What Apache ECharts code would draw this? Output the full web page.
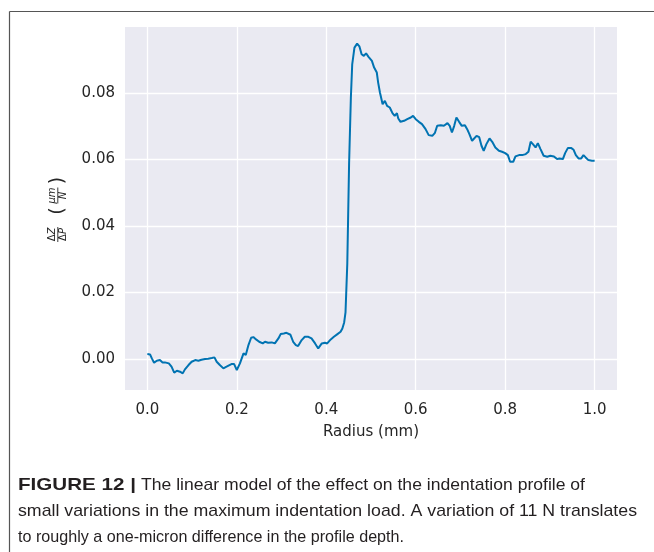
<!DOCTYPE html>
<html>
<head>
<meta charset="utf-8">
<title>Figure 12</title>
<script src="https://cdn.jsdelivr.net/npm/echarts@6/dist/echarts.min.js"></script>
<style>
  html, body { margin: 0; padding: 0; background: #fff; }
  #chart { width: 654px; height: 552px; }
</style>
</head>
<body>
<div id="chart"></div>
<script>
// radius (mm) and dZ/dP (um/N)
const radius = [
  0.000, 0.006, 0.010, 0.015, 0.021, 0.028, 0.034, 0.039, 0.048, 0.054,
  0.060, 0.066, 0.073, 0.079, 0.084, 0.092, 0.099, 0.107, 0.114, 0.121,
  0.129, 0.136, 0.144, 0.150, 0.155, 0.162, 0.170, 0.177, 0.188, 0.194,
  0.200, 0.207, 0.215, 0.220, 0.226, 0.232, 0.237, 0.243, 0.250, 0.258,
  0.263, 0.270, 0.278, 0.285, 0.293, 0.298, 0.305, 0.311, 0.315, 0.320,
  0.326, 0.332, 0.337, 0.345, 0.352, 0.360, 0.367, 0.375, 0.382, 0.390,
  0.397, 0.402, 0.410, 0.417, 0.425, 0.432, 0.436, 0.440, 0.443, 0.447,
  0.451, 0.455, 0.458, 0.463, 0.469, 0.474, 0.479, 0.484, 0.489, 0.494,
  0.502, 0.507, 0.513, 0.516, 0.520, 0.526, 0.531, 0.536, 0.542, 0.548,
  0.553, 0.558, 0.561, 0.566, 0.574, 0.581, 0.589, 0.594, 0.600, 0.607,
  0.614, 0.622, 0.629, 0.637, 0.643, 0.648, 0.656, 0.663, 0.671, 0.676,
  0.681, 0.686, 0.691, 0.697, 0.703, 0.710, 0.715, 0.720, 0.726, 0.736,
  0.742, 0.747, 0.752, 0.758, 0.765, 0.771, 0.778, 0.786, 0.793, 0.800,
  0.806, 0.811, 0.818, 0.823, 0.831, 0.838, 0.846, 0.852, 0.857, 0.862,
  0.868, 0.873, 0.879, 0.886, 0.894, 0.901, 0.909, 0.916, 0.921, 0.929,
  0.934, 0.940, 0.948, 0.953, 0.958, 0.964, 0.970, 0.975, 0.980, 0.986,
  0.994, 1.000
]
const dzdp = [
  0.0015, 0.0014, 0.0002, -0.0011, -0.0005, -0.0003, -0.0010, -0.0010, -0.0013, -0.0023,
  -0.0041, -0.0035, -0.0038, -0.0043, -0.0031, -0.0018, -0.0008, -0.0003, -0.0005, -0.0002,
  0.0000, 0.0001, 0.0003, 0.0005, -0.0008, -0.0018, -0.0028, -0.0023, -0.0015, -0.0015,
  -0.0033, -0.0013, 0.0017, 0.0012, 0.0042, 0.0064, 0.0066, 0.0059, 0.0052, 0.0047,
  0.0052, 0.0049, 0.0050, 0.0047, 0.0062, 0.0075, 0.0077, 0.0079, 0.0085, 0.0073,
  0.0052, 0.0042, 0.0039, 0.0057, 0.0067, 0.0067, 0.0062, 0.0047, 0.0032, 0.0047,
  0.0049, 0.0047, 0.0059, 0.0067, 0.0075, 0.0082, 0.0092, 0.0110, 0.0140, 0.0287,
  0.0586, 0.0786, 0.0886, 0.0936, 0.0948, 0.0940, 0.0916, 0.0911, 0.0919, 0.0909,
  0.0896, 0.0876, 0.0861, 0.0831, 0.0801, 0.0766, 0.0776, 0.0761, 0.0756, 0.0739,
  0.0731, 0.0739, 0.0723, 0.0713, 0.0716, 0.0721, 0.0726, 0.0731, 0.0721, 0.0713,
  0.0706, 0.0691, 0.0673, 0.0671, 0.0680, 0.0701, 0.0703, 0.0701, 0.0709, 0.0701,
  0.0681, 0.0701, 0.0726, 0.0713, 0.0701, 0.0703, 0.0691, 0.0676, 0.0656, 0.0671,
  0.0667, 0.0641, 0.0626, 0.0646, 0.0663, 0.0653, 0.0636, 0.0626, 0.0623, 0.0619,
  0.0613, 0.0593, 0.0593, 0.0609, 0.0613, 0.0613, 0.0616, 0.0623, 0.0653, 0.0646,
  0.0636, 0.0649, 0.0631, 0.0611, 0.0608, 0.0611, 0.0609, 0.0601, 0.0603, 0.0601,
  0.0619, 0.0634, 0.0634, 0.0629, 0.0613, 0.0603, 0.0603, 0.0613, 0.0606, 0.0598,
  0.0596, 0.0596
]
const xTicks = [0, 0.2, 0.4, 0.6, 0.8, 1.0]
const yTicks = [0, 0.02, 0.04, 0.06, 0.08]
const captionBold = 'FIGURE 12 |'
const captionLines = [
  'The linear model of the effect on the indentation profile of',
  'small variations in the maximum indentation load. A variation of 11 N translates',
  'to roughly a one-micron difference in the profile depth.'
]

const textColor = '#262626'
const capColor = '#231f20'
const tickFont = { fontFamily: 'DejaVu Sans', fontSize: 15, color: textColor }

const chart = echarts.init(document.getElementById('chart'), null, { renderer: 'canvas' })

// caption: squeeze/stretch each line to the width it takes in the figure
const measureCtx = document.createElement('canvas').getContext('2d')
function textWidth(txt, font) {
  measureCtx.font = font
  return measureCtx.measureText(txt).width
}
const capSize = 17
const regFont = capSize + 'px "Liberation Sans"'
const boldFont = 'bold ' + capSize + 'px "Liberation Sans"'
// [x start, x end] of each caption piece in the figure
const capSpans = [[141, 585], [18, 637], [18, 404]]
const boldSpan = [18, 136]

function capText(txt, span, y, bold) {
  const w = textWidth(txt, bold ? boldFont : regFont)
  return {
    type: 'text',
    x: span[0],
    y: y,
    scaleX: (span[1] - span[0]) / w,
    style: {
      text: txt,
      fill: capColor,
      fontFamily: 'Liberation Sans',
      fontWeight: bold ? 'bold' : 'normal',
      fontSize: capSize,
      align: 'left',
      verticalAlign: 'middle'
    }
  }
}
const captionParts = [capText(captionBold, boldSpan, 485, true)]
  .concat(captionLines.map((ln, i) => capText(ln, capSpans[i], 485 + i * 26, false)))

// y axis label: dZ/dP (um/N) built as stacked fractions, rotated
const fs = 10
const it = { fontStyle: 'italic', fontFamily: 'DejaVu Sans', fontSize: fs, fill: textColor }
const up = { fontFamily: 'DejaVu Sans', fontSize: fs, fill: textColor }
function frac(cx, num, den, half) {
  const base = { align: 'center', verticalAlign: 'middle', fill: textColor, fontFamily: 'DejaVu Sans', fontSize: fs, rich: { u: up, i: it } }
  return [
    { type: 'text', x: cx, y: -5.5, style: { ...base, text: num } },
    { type: 'line', shape: { x1: cx - half, y1: 0.3, x2: cx + half, y2: 0.3 }, style: { stroke: textColor, lineWidth: 0.9 } },
    { type: 'text', x: cx, y: 6, style: { ...base, text: den } }
  ]
}
const yLabelParts = [].concat(
  frac(-25.5, '{u|Δ}{i|Z}', '{u|Δ}{i|P}', 7.5),
  [
    { type: 'text', x: -2, y: 0.5, style: { text: '(', align: 'center', verticalAlign: 'middle', fill: textColor, fontFamily: 'DejaVu Sans', fontSize: 19 } },
    { type: 'text', x: 28.5, y: 0.5, style: { text: ')', align: 'center', verticalAlign: 'middle', fill: textColor, fontFamily: 'DejaVu Sans', fontSize: 19 } }
  ],
  frac(13.5, '{i|μm}', '{i|N}', 8)
)

const option = {
  backgroundColor: '#ffffff',
  animation: false,
  grid: {
    left: 125,
    right: 37,
    top: 27,
    bottom: 162,
    show: true,
    backgroundColor: '#eaeaf2',
    borderWidth: 0
  },
  xAxis: {
    type: 'value',
    min: -0.05,
    max: 1.05,
    name: 'Radius (mm)',
    nameLocation: 'middle',
    nameGap: 35,
    nameTextStyle: tickFont,
    axisLine: { show: false },
    axisTick: { show: false, customValues: xTicks },
    axisLabel: {
      customValues: xTicks,
      margin: 13,
      formatter: (v) => v.toFixed(1),
      ...tickFont
    },
    splitLine: { show: true, lineStyle: { color: '#ffffff', width: 1.3 } }
  },
  yAxis: {
    type: 'value',
    min: -0.0093,
    max: 0.0998,
    axisLine: { show: false },
    axisTick: { show: false, customValues: yTicks },
    axisLabel: {
      customValues: yTicks,
      margin: 10,
      formatter: (v) => v.toFixed(2),
      ...tickFont
    },
    splitLine: { show: true, lineStyle: { color: '#ffffff', width: 1.3 } }
  },
  series: [
    {
      type: 'line',
      data: radius.map((r, i) => [r, dzdp[i]]),
      showSymbol: false,
      smooth: false,
      lineStyle: { color: '#0173b2', width: 2 },
      itemStyle: { color: '#0173b2' }
    }
  ],
  graphic: [
    { type: 'line', shape: { x1: 9.5, y1: 11.5, x2: 654, y2: 11.5 }, style: { stroke: '#555', lineWidth: 1.2 } },
    { type: 'line', shape: { x1: 9.5, y1: 11.5, x2: 9.5, y2: 552 }, style: { stroke: '#555', lineWidth: 1.2 } },
    { type: 'group', x: 57.5, y: 209, rotation: Math.PI / 2, children: yLabelParts }
  ].concat(captionParts)
}

chart.setOption(option)
</script>
</body>
</html>
